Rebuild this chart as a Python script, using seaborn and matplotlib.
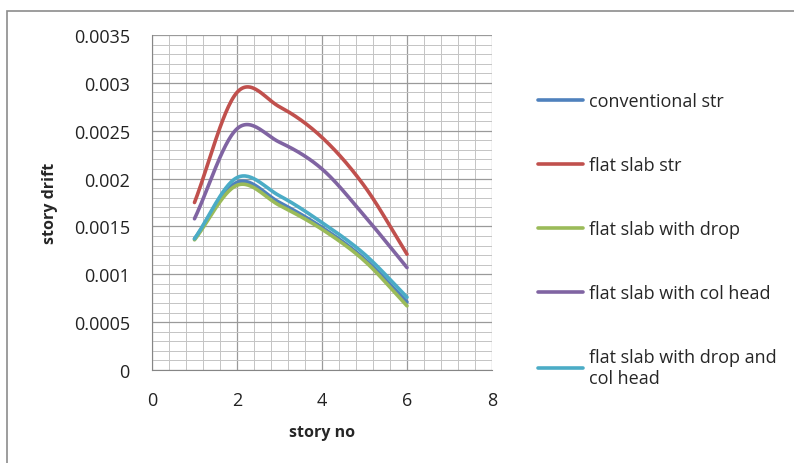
import numpy as np
import pandas as pd
import matplotlib
matplotlib.use("Agg")
import matplotlib.pyplot as plt
from matplotlib.patches import Rectangle
from matplotlib.ticker import MultipleLocator
import seaborn as sns

# Datos
stories = [1, 2, 3, 4, 5, 6]
conventional = [0.00137, 0.00196, 0.00175, 0.00149, 0.00116, 0.00071]
flat_slab = [0.00175, 0.00290, 0.00275, 0.00243, 0.00192, 0.00121]
flat_drop = [0.00136, 0.00193, 0.00172, 0.00147, 0.00114, 0.00067]
flat_colhead = [0.00158, 0.00252, 0.00238, 0.00210, 0.00161, 0.00107]
flat_drop_colhead = [0.00137, 0.00201, 0.00182, 0.00154, 0.00121, 0.00076]

series_names = ["conventional str", "flat slab str", "flat slab with drop",
                "flat slab with col head", "flat slab with drop and\ncol head"]
series_values = [conventional, flat_slab, flat_drop, flat_colhead, flat_drop_colhead]
colors = ["#4F81BD", "#C0504D", "#9BBB59", "#8064A2", "#4BACC6"]


def smooth(x, y, n=30):
    # curva suavizada tipo Excel (Catmull-Rom)
    x = np.asarray(x, float)
    y = np.asarray(y, float)
    px = np.concatenate([[2 * x[0] - x[1]], x, [2 * x[-1] - x[-2]]])
    py = np.concatenate([[2 * y[0] - y[1]], y, [2 * y[-1] - y[-2]]])
    xs, ys = [], []
    for i in range(1, len(px) - 2):
        t = np.linspace(0, 1, n, endpoint=(i == len(px) - 3))
        for P, out in ((px, xs), (py, ys)):
            p0, p1, p2, p3 = P[i - 1], P[i], P[i + 1], P[i + 2]
            out.extend(0.5 * ((2 * p1) + (-p0 + p2) * t
                              + (2 * p0 - 5 * p1 + 4 * p2 - p3) * t ** 2
                              + (-p0 + 3 * p1 - 3 * p2 + p3) * t ** 3))
    return np.array(xs), np.array(ys)


frames = []
for name, vals in zip(series_names, series_values):
    sx, sy = smooth(stories, vals)
    frames.append(pd.DataFrame({"story no": sx, "story drift": sy, "serie": name}))
df = pd.concat(frames, ignore_index=True)

sns.set_style("white")
plt.rcParams["font.family"] = ["Open Sans", "DejaVu Sans"]

fig = plt.figure(figsize=(7.94, 4.64), dpi=100)
ax = fig.add_axes([152 / 794, 1 - 371 / 464, 340 / 794, 335 / 464])

sns.lineplot(data=df, x="story no", y="story drift", hue="serie",
             palette=dict(zip(series_names, colors)), sort=False,
             linewidth=2.6, ax=ax, legend=True)

ax.set_xlim(0, 8)
ax.set_ylim(0, 0.0035)
ax.xaxis.set_major_locator(MultipleLocator(2))
ax.xaxis.set_minor_locator(MultipleLocator(0.4))
ax.yaxis.set_major_locator(MultipleLocator(0.0005))
ax.yaxis.set_minor_locator(MultipleLocator(0.0001))
ax.set_yticks(np.arange(0, 0.0036, 0.0005))
ax.set_yticklabels([f"{v:g}" for v in np.arange(0, 0.0036, 0.0005)])
ax.grid(True, which="major", color="#9a9a9a", linewidth=0.9)
ax.grid(True, which="minor", color="#c4c4c4", linewidth=0.7)
ax.set_axisbelow(True)
for s in ["top", "right"]:
    ax.spines[s].set_visible(False)
for s in ["left", "bottom"]:
    ax.spines[s].set_color("#868686")
ax.tick_params(axis="both", which="major", length=5, color="#868686",
               labelsize=13, labelcolor="#222222", direction="out")
ax.tick_params(axis="x", which="major", pad=10)
ax.tick_params(axis="y", which="major", pad=11)
ax.tick_params(axis="both", which="minor", length=0)
ax.set_xlabel("story no", fontsize=11.5, fontweight="bold", labelpad=11)
ax.set_ylabel("story drift", fontsize=11.5, fontweight="bold", labelpad=11)

handles, labels = ax.get_legend_handles_labels()
ax.legend(handles, labels, loc="upper left", bbox_to_anchor=(531 / 794, 1 - 86 / 464),
          bbox_transform=fig.transFigure, frameon=False, fontsize=13,
          handlelength=2.5, handletextpad=0.3, labelspacing=2.55, borderaxespad=0)

fig.patches.append(Rectangle((7 / 794, -10 / 464), 800 / 794, 462 / 464,
                             transform=fig.transFigure, fill=False,
                             edgecolor="#8c8c8c", linewidth=1.2))

plt.savefig("out.png", dpi=100)
